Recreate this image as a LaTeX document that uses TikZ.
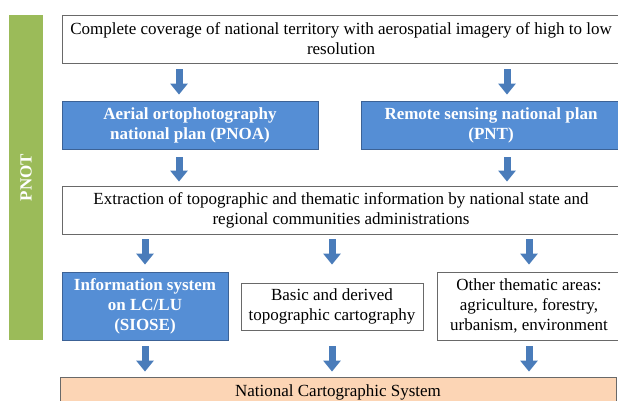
\documentclass[tikz,border=0pt]{standalone}
\usepackage{fontspec}
\setmainfont{Liberation Serif}
\usepackage{xcolor}
\usepackage{tikz}
\usetikzlibrary{arrows.meta}
\definecolor{planblue}{RGB}{85,142,213}
\definecolor{planedge}{RGB}{60,98,150}
\definecolor{arrowblue}{RGB}{74,124,186}
\definecolor{pnotgreen}{RGB}{155,187,89}
\definecolor{peach}{RGB}{252,213,181}
\definecolor{boxedge}{RGB}{105,105,105}

\begin{document}
\begin{tikzpicture}[x=1pt, y=-1pt,
	every node/.style={align=center, inner sep=0pt, font=\fontsize{17}{20}\selectfont},
	plainbox/.style={draw=boxedge, fill=white, line width=0.8pt},
	planbox/.style={draw=planedge, fill=planblue, text=white, line width=0.8pt, font=\fontsize{17}{20}\selectfont\bfseries},
	flow/.style={draw=arrowblue, line width=7pt, -{Triangle[width=17pt,length=11pt]}}]
	\useasboundingbox (0,0) rectangle (618,401);
	\node[fill=pnotgreen, minimum width=325pt, minimum height=34pt, text=white, font=\fontsize{17}{20}\selectfont\bfseries, rotate=90](pnot) at (26,177.5){PNOT};
	\node[plainbox, minimum width=558pt, minimum height=48pt](cover) at (341,39){Complete coverage of national territory with aerospatial imagery of high to low\\resolution};
	\node[planbox, minimum width=256pt, minimum height=48pt](pnoa) at (190,125){Aerial ortophotography\\national plan (PNOA)};
	\node[planbox, minimum width=260pt, minimum height=48pt](pnt) at (491,125){Remote sensing national plan\\(PNT)};
	\node[plainbox, minimum width=558pt, minimum height=48pt](extract) at (341,210){Extraction of topographic and thematic information by national state and\\regional communities administrations};
	\node[planbox, minimum width=166pt, minimum height=68pt](siose) at (145,306){Information system\\on LC/LU\\(SIOSE)};
	\node[plainbox, minimum width=182pt, minimum height=47pt](basic) at (332,306.5){Basic and derived\\topographic cartography};
	\node[plainbox, minimum width=184pt, minimum height=68pt](other) at (529,306){Other thematic areas:\\agriculture, forestry,\\urbanism, environment};
	\node[draw=boxedge, fill=peach, line width=0.8pt, minimum width=556pt, minimum height=30pt](national) at (338,392){National Cartographic System};
	\coordinate(colL) at (179,0);
	\coordinate(colR) at (507,0);
	\draw[flow, shorten <=6pt, shorten >=6pt] (cover.south -| colL) -- (pnoa.north -| colL);
	\draw[flow, shorten <=6pt, shorten >=6pt] (cover.south -| colR) -- (pnt.north -| colR);
	\draw[flow, shorten <=8pt, shorten >=4pt] (pnoa.south -| colL) -- (extract.north -| colL);
	\draw[flow, shorten <=8pt, shorten >=4pt] (pnt.south -| colR) -- (extract.north -| colR);
	\draw[flow, shorten <=5pt, shorten >=7pt] (extract.south -| siose) -- (siose.north);
	\draw[flow, shorten <=5pt, shorten >=18pt] (extract.south -| basic) -- (basic.north);
	\draw[flow, shorten <=5pt, shorten >=7pt] (extract.south -| other) -- (other.north);
	\draw[flow, shorten <=6pt, shorten >=5pt] (siose.south) -- (national.north -| siose);
	\draw[flow, shorten <=16pt, shorten >=5pt] (basic.south) -- (national.north -| basic);
	\draw[flow, shorten <=6pt, shorten >=5pt] (other.south) -- (national.north -| other);
\end{tikzpicture}
\end{document}
